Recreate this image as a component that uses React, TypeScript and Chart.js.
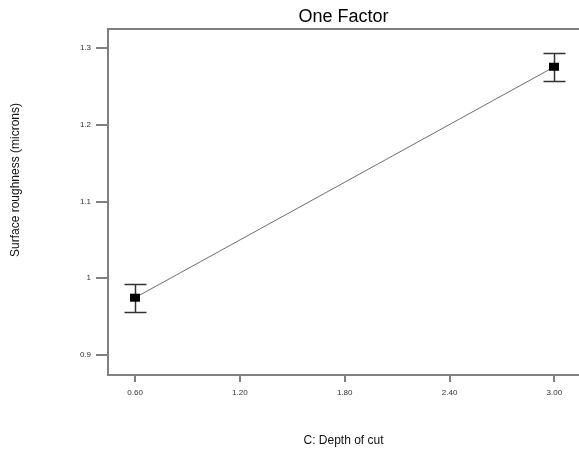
import React, { useEffect, useRef } from "react";
import { Chart, registerables } from "chart.js";

Chart.register(...registerables);

// Data
const depthOfCut = [0.6, 3.0];
const roughness = [0.9747, 1.2756];
const errLow = [0.9556, 1.2573];
const errHigh = [0.9921, 1.2931];

const xTicks = [0.6, 1.2, 1.8, 2.4, 3.0];
const xTickLabels = ["0.60", "1.20", "1.80", "2.40", "3.00"];
const yTicks = [0.9, 1.0, 1.1, 1.2, 1.3];
const yTickLabels = ["0.9", "1", "1.1", "1.2", "1.3"];

const titleText = "One Factor";
const xTitle = "C: Depth of cut";
const yTitle = "Surface roughness (microns)";

const FONT = "Arial, 'Liberation Sans', sans-serif";
const AXIS_GRAY = "#808080";

const errorBarPlugin = {
  id: "errorBarsAndFrame",
  afterDatasetsDraw(chart: any) {
    const { ctx, chartArea } = chart;
    const x = chart.scales.x;
    const y = chart.scales.y;
    ctx.save();
    // top frame line
    ctx.strokeStyle = AXIS_GRAY;
    ctx.lineWidth = 2;
    ctx.beginPath();
    ctx.moveTo(chartArea.left - 1, chartArea.top);
    ctx.lineTo(chartArea.right, chartArea.top);
    ctx.stroke();

    depthOfCut.forEach((xv, i) => {
      const px = Math.round(x.getPixelForValue(xv)) + 0.5;
      const py = y.getPixelForValue(roughness[i]);
      const lo = Math.round(y.getPixelForValue(errLow[i])) + 0.5;
      const hi = Math.round(y.getPixelForValue(errHigh[i])) + 0.5;
      ctx.strokeStyle = "#333";
      ctx.lineWidth = 1.5;
      ctx.beginPath();
      ctx.moveTo(px, lo);
      ctx.lineTo(px, hi);
      ctx.moveTo(px - 11, lo);
      ctx.lineTo(px + 11, lo);
      ctx.moveTo(px - 11, hi);
      ctx.lineTo(px + 11, hi);
      ctx.stroke();
      ctx.fillStyle = "#000";
      ctx.fillRect(px - 5.5, py - 4, 10, 8);
    });

    // y axis title
    ctx.translate(15.5, 180);
    ctx.rotate(-Math.PI / 2);
    ctx.font = `12px ${FONT}`;
    ctx.fillStyle = "#111";
    ctx.textAlign = "center";
    ctx.textBaseline = "middle";
    ctx.fillText(yTitle, 0, 0);
    ctx.restore();
  },
};

export default function App() {
  const canvasRef = useRef<HTMLCanvasElement | null>(null);

  useEffect(() => {
    document.body.style.margin = "0";
    const canvas = canvasRef.current;
    if (!canvas) return;
    const chart = new Chart(canvas, {
      type: "line",
      data: {
        datasets: [
          {
            data: depthOfCut.map((v, i) => ({ x: v, y: roughness[i] })),
            borderColor: "#6e6e6e",
            borderWidth: 1,
            pointRadius: 0,
            fill: false,
            tension: 0,
          },
        ],
      },
      options: {
        responsive: false,
        animation: false,
        layout: { padding: 0 },
        plugins: {
          legend: { display: false },
          tooltip: { enabled: false },
          title: {
            display: true,
            text: titleText,
            fullSize: false,
            color: "#000",
            font: { family: FONT, size: 18, weight: "normal" },
            padding: { top: 6, bottom: 1.4 },
          },
        },
        scales: {
          x: {
            type: "linear",
            min: 0.445,
            max: 3.141,
            afterBuildTicks: (s: any) => {
              s.ticks = xTicks.map((v) => ({ value: v }));
            },
            afterFit: (s: any) => {
              s.height = 77;
            },
            grid: {
              display: true,
              drawOnChartArea: false,
              drawTicks: true,
              tickLength: 7,
              color: AXIS_GRAY,
              lineWidth: 2,
            },
            border: { display: true, color: AXIS_GRAY, width: 2 },
            ticks: {
              autoSkip: false,
              maxRotation: 0,
              padding: 6,
              color: "#333",
              font: { family: FONT, size: 8 },
              callback: (_v: any, i: number) => xTickLabels[i],
            },
            title: {
              display: true,
              text: xTitle,
              color: "#111",
              font: { family: FONT, size: 12 },
              padding: { top: 0, bottom: 4 },
            },
          },
          y: {
            type: "linear",
            min: 0.874,
            max: 1.3248,
            afterBuildTicks: (s: any) => {
              s.ticks = yTicks.map((v) => ({ value: v }));
            },
            afterFit: (s: any) => {
              s.width = 108;
            },
            grid: {
              display: true,
              drawOnChartArea: false,
              drawTicks: true,
              tickLength: 12,
              color: AXIS_GRAY,
              lineWidth: 2,
            },
            border: { display: true, color: AXIS_GRAY, width: 2 },
            ticks: {
              autoSkip: false,
              padding: 5,
              color: "#333",
              font: { family: FONT, size: 8 },
              callback: (_v: any, i: number) => yTickLabels[i],
            },
          },
        },
      },
      plugins: [errorBarPlugin],
    });
    return () => chart.destroy();
  }, []);

  return (
    <canvas
      ref={canvasRef}
      width={579}
      height={452}
      style={{ display: "block", width: 579, height: 452 }}
    />
  );
}
